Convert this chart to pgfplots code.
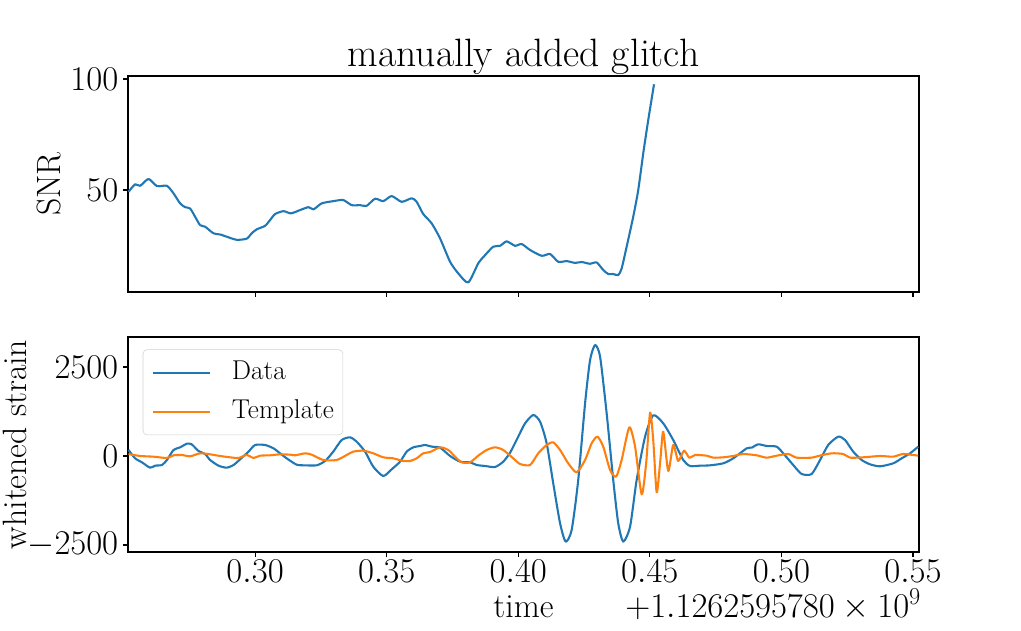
\documentclass[border=0pt]{standalone}
\usepackage{fix-cm}
\usepackage{pgfplots}
\pgfplotsset{compat=1.18}
\definecolor{c0}{HTML}{1F77B4}
\definecolor{c1}{HTML}{FF7F0E}

\pgfplotstableread{
x y
0.2519 49.2
0.2544 52.6
0.2563 51.9
0.2595 55.0
0.2627 51.8
0.2665 51.9
0.2690 48.5
0.2715 44.0
0.2734 42.3
0.2753 41.7
0.2772 38.0
0.2791 34.2
0.2810 33.5
0.2842 30.5
0.2867 30.0
0.2892 29.0
0.2930 27.6
0.2968 28.1
0.2987 30.5
0.3006 32.3
0.3038 33.9
0.3057 36.5
0.3076 39.2
0.3108 40.5
0.3136 39.5
0.3171 41.0
0.3203 42.3
0.3222 41.3
0.3253 44.0
0.3297 45.0
0.3335 45.5
0.3367 43.2
0.3399 43.2
0.3424 42.9
0.3456 46.1
0.3487 45.0
0.3519 47.3
0.3557 44.7
0.3595 46.3
0.3614 44.7
0.3639 39.2
0.3671 35.0
0.3703 28.2
0.3741 17.7
0.3772 12.5
0.3810 8.4
0.3848 17.0
0.3874 20.7
0.3905 24.5
0.3931 24.9
0.3956 26.9
0.3988 24.9
0.4013 25.7
0.4045 23.0
0.4089 20.4
0.4121 21.2
0.4152 17.7
0.4184 18.0
0.4216 17.2
0.4241 17.6
0.4273 16.8
0.4298 17.4
0.4323 14.0
0.4342 12.2
0.4361 12.2
0.4380 11.7
0.4393 14.7
0.4412 24.5
0.4437 38.0
0.4456 50.0
0.4475 66.5
0.4494 81.5
0.4516 97.6
}\snr

\pgfplotstableread{
x y
0.2519 169
0.2544 -66
0.2570 -178
0.2601 -328
0.2620 -272
0.2646 -253
0.2665 -112
0.2690 169
0.2715 243
0.2741 346
0.2759 328
0.2785 140
0.2810 56
0.2829 -112
0.2861 -272
0.2892 -328
0.2918 -253
0.2943 -94
0.2975 122
0.3000 309
0.3038 309
0.3070 215
0.3095 75
0.3120 -66
0.3158 -244
0.3190 -262
0.3234 -262
0.3266 -140
0.3297 122
0.3329 449
0.3361 524
0.3386 403
0.3418 122
0.3449 -300
0.3487 -562
0.3519 -374
0.3551 -159
0.3576 122
0.3601 243
0.3627 281
0.3646 309
0.3672 262
0.3703 234
0.3741 0
0.3779 -159
0.3817 -178
0.3842 -253
0.3874 -281
0.3912 -309
0.3943 -159
0.3969 94
0.4000 543
0.4026 918
0.4057 1152
0.4083 964
0.4108 356
0.4133 -767
0.4159 -1891
0.4180 -2406
0.4203 -2079
0.4228 -674
0.4254 1480
0.4273 2697
0.4292 3118
0.4311 2790
0.4336 1199
0.4361 -674
0.4380 -1891
0.4399 -2406
0.4425 -1985
0.4450 -674
0.4482 543
0.4513 1143
0.4551 918
0.4589 449
0.4627 -112
0.4653 -281
0.4691 -272
0.4729 -262
0.4779 -206
0.4817 -66
0.4868 215
0.4887 234
0.4912 328
0.4944 281
0.4982 262
0.5007 75
0.5045 -253
0.5077 -506
0.5115 -506
0.5147 -112
0.5178 309
0.5216 543
0.5242 449
0.5273 122
0.5305 -112
0.5337 -234
0.5375 -290
0.5425 -206
0.5457 -66
0.5489 75
0.5520 262
}\data

\pgfplotstableread{
x y
0.2519 56
0.2563 0
0.2614 -19
0.2665 -56
0.2690 19
0.2722 28
0.2753 -9
0.2791 75
0.2829 47
0.2867 0
0.2905 -37
0.2937 -56
0.2968 28
0.2994 -56
0.3019 9
0.3057 19
0.3095 47
0.3133 37
0.3152 19
0.3190 75
0.3215 37
0.3259 -112
0.3310 -112
0.3348 28
0.3373 122
0.3411 150
0.3449 75
0.3487 -37
0.3525 -66
0.3563 -140
0.3589 -140
0.3614 -66
0.3639 75
0.3665 112
0.3703 243
0.3734 169
0.3760 -19
0.3785 -178
0.3817 -178
0.3848 9
0.3880 169
0.3912 243
0.3943 169
0.3981 -66
0.4007 -225
0.4045 -253
0.4076 75
0.4108 309
0.4133 384
0.4159 169
0.4190 -206
0.4222 -459
0.4254 -112
0.4279 356
0.4301 543
0.4323 262
0.4349 -393
0.4372 -580
0.4393 -112
0.4422 805
0.4444 262
0.4469 -1076
0.4486 -206
0.4501 1217
0.4513 449
0.4526 -1020
0.4539 -206
0.4551 683
0.4570 -421
0.4589 309
0.4608 -140
0.4630 150
0.4650 -47
0.4672 28
0.4716 9
0.4741 -47
0.4779 -37
0.4817 0
0.4855 56
0.4906 19
0.4944 -47
0.4982 9
0.5026 56
0.5058 -47
0.5115 -47
0.5140 0
0.5191 75
0.5235 56
0.5261 -47
0.5311 -37
0.5375 0
0.5425 -19
0.5463 56
0.5520 9
}\tmpl

\pgfplotsset{
  base/.style={
    scale only axis,
    width=569.52pt,
    xmin=0.2517, xmax=0.5523,
    xtick={0.30,0.35,0.40,0.45,0.50,0.55},
    axis line style={line width=0.8pt},
    every tick/.style={line width=0.8pt, black},
    major tick length=3.5pt,
    tick align=outside,
    xtick pos=left, ytick pos=left,
    scaled ticks=false,
    /pgf/number format/1000 sep={},
    ticklabel style={font=\fontsize{25}{30}\selectfont},
    label style={font=\fontsize{24.3}{29}\selectfont},
    x tick label style={anchor=base, yshift=-18.7pt, /pgf/number format/.cd, fixed, fixed zerofill, precision=2},
    every axis plot/.append style={line width=1.5pt, line join=round},
  }
}

\begin{document}
\begin{tikzpicture}
\path[use as bounding box] (0,0) rectangle (735.12pt,454.32pt);
\begin{axis}[base,
  at={(92.16pt,244.08pt)}, anchor=south west,
  height=155.52pt,
  ymin=4.1, ymax=101.35,
  ytick={50,100},
  xticklabels={},
  ylabel={SNR},
  ylabel style={at={(axis description cs:-0.0999,0.5)}, anchor=center},
  title={manually added glitch},
  every axis title/.style={font=\fontsize{28.5}{34}\selectfont, at={(axis description cs:0.5,1)}, anchor=base, yshift=6.7pt},
]
\addplot[c0, smooth, tension=0.4] table[x=x,y=y] {\snr};
\end{axis}
\begin{axis}[base, name=bot,
  at={(92.16pt,56.88pt)}, anchor=south west,
  height=154.8pt,
  ymin=-2697, ymax=3343,
  ytick={-2500,0,2500},
  xlabel={time},
  xlabel style={at={(axis description cs:0.5,0)}, anchor=base, yshift=-47pt},
  ylabel={whitened strain},
  ylabel style={at={(axis description cs:-0.1429,0.5)}, anchor=center},
  legend cell align=left,
  legend style={at={(axis description cs:0,1)}, anchor=north west, xshift=10.6pt, yshift=-8.9pt,
    draw=black!18, rounded corners=3pt, fill=white, fill opacity=0.8, text opacity=1,
    font=\fontsize{19.6}{23}\selectfont, inner xsep=6.5pt, inner ysep=8pt, row sep=10.6pt, column sep=15pt,
    nodes={inner sep=0pt, text height=13.6pt, text depth=3.8pt}},
  legend image code/.code={\draw[#1] (0pt,0pt) -- (41pt,0pt);},
]
\addplot[c0, smooth, tension=0.4] table[x=x,y=y] {\data};
\addlegendentry{Data}
\addplot[c1, smooth, tension=0.4] table[x=x,y=y] {\tmpl};
\addlegendentry{Template}
\end{axis}
\node[anchor=base east, font=\fontsize{25}{30}\selectfont] at ([xshift=5pt,yshift=-47pt]bot.south east) {$+1.1262595780\times10^{9}$};
\end{tikzpicture}
\end{document}
